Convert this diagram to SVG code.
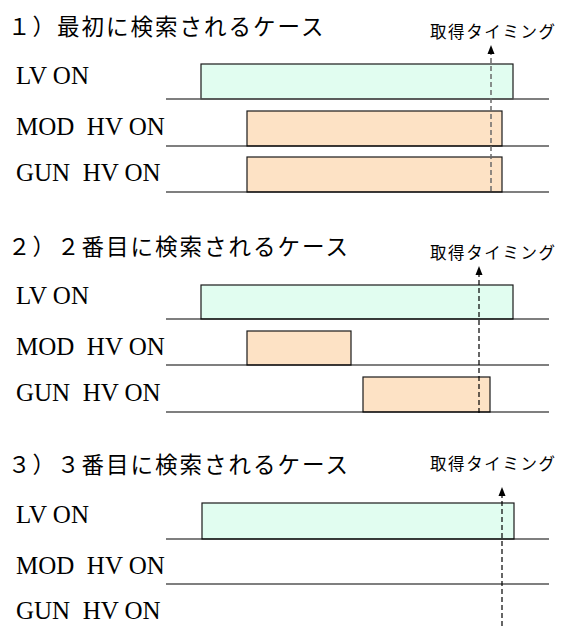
<svg xmlns="http://www.w3.org/2000/svg" width="561" height="628" viewBox="0 0 561 628">
<style>
.title{font-family:"Noto Sans CJK JP","Noto Sans",sans-serif;font-size:22.5px;letter-spacing:2px;fill:#000}
.timing{font-family:"Noto Sans CJK JP","Noto Sans",sans-serif;font-size:16.5px;letter-spacing:1.6px;fill:#000}
.sig{font-family:"Liberation Serif",serif;font-size:25px;fill:#000;white-space:pre}
.base{stroke:#000;stroke-width:1.2;fill:none}
.base1{stroke:#555;stroke-width:1.4;fill:none}
.lv{fill:#E1FDF0;stroke:#1a1a1a;stroke-width:1.2}
.hv{fill:#FDE2C5;stroke:#1a1a1a;stroke-width:1.2}
.trig{stroke:#000;stroke-width:1.2;stroke-dasharray:5 3;fill:none;marker-end:url(#head)}
.trig1{stroke:#6a6a6a;stroke-width:1.5;stroke-dasharray:5 3;fill:none;marker-end:url(#head)}
</style>
<defs>
<marker id="head" markerUnits="userSpaceOnUse" markerWidth="10" markerHeight="8" refX="0" refY="3.5" orient="auto" overflow="visible">
<path d="M0,0 L9,3.5 L0,7 Z" fill="#000" stroke="none"/>
</marker>
</defs>

<g id="section1">
<text id="title1" class="title" x="8" y="35">１）最初に検索されるケース</text>
<text id="timing1" class="timing" x="430" y="38">取得タイミング</text>
<g id="s1-lv">
<text class="sig" x="16" y="84">LV ON</text>
<rect class="lv" x="201" y="64" width="312" height="35"/>
<line class="base1" x1="166" y1="99" x2="549" y2="99"/>
</g>
<g id="s1-mod">
<text class="sig" x="16" y="135" xml:space="preserve">MOD  HV ON</text>
<rect class="hv" x="247" y="111" width="255" height="35"/>
<line class="base" x1="166" y1="146" x2="549" y2="146"/>
</g>
<g id="s1-gun">
<text class="sig" x="16" y="181" xml:space="preserve">GUN  HV ON</text>
<rect class="hv" x="247" y="157" width="255" height="35"/>
<line class="base" x1="166" y1="192" x2="549" y2="192"/>
</g>
</g>

<g id="section2">
<text id="title2" class="title" x="8" y="255">２）２番目に検索されるケース</text>
<text id="timing2" class="timing" x="430" y="259">取得タイミング</text>
<g id="s2-lv">
<text class="sig" x="16" y="304">LV ON</text>
<rect class="lv" x="201" y="285" width="312" height="34"/>
<line class="base" x1="166" y1="319" x2="549" y2="319"/>
</g>
<g id="s2-mod">
<text class="sig" x="16" y="355" xml:space="preserve">MOD  HV ON</text>
<rect class="hv" x="247" y="331" width="104" height="34"/>
<line class="base" x1="166" y1="365" x2="549" y2="365"/>
</g>
<g id="s2-gun">
<text class="sig" x="16" y="401" xml:space="preserve">GUN  HV ON</text>
<rect class="hv" x="363" y="377" width="127" height="35"/>
<line class="base" x1="166" y1="412" x2="549" y2="412"/>
</g>
</g>

<g id="section3">
<text id="title3" class="title" x="8" y="473">３）３番目に検索されるケース</text>
<text id="timing3" class="timing" x="430" y="470">取得タイミング</text>
<g id="s3-lv">
<text class="sig" x="16" y="523">LV ON</text>
<rect class="lv" x="202" y="503" width="312" height="36"/>
<line class="base" x1="166" y1="539" x2="549" y2="539"/>
</g>
<g id="s3-mod">
<text class="sig" x="16" y="574" xml:space="preserve">MOD  HV ON</text>
<line class="base" x1="166" y1="584" x2="549" y2="584"/>
</g>
<g id="s3-gun">
<text class="sig" x="16" y="619" xml:space="preserve">GUN  HV ON</text>
</g>
</g>

<g id="connectors">
<line class="trig1" x1="491" y1="191" x2="491" y2="54"/>
<line class="trig" x1="479" y1="413" x2="479" y2="275"/>
<line class="trig" x1="502" y1="626" x2="502" y2="496"/>
</g>
</svg>
